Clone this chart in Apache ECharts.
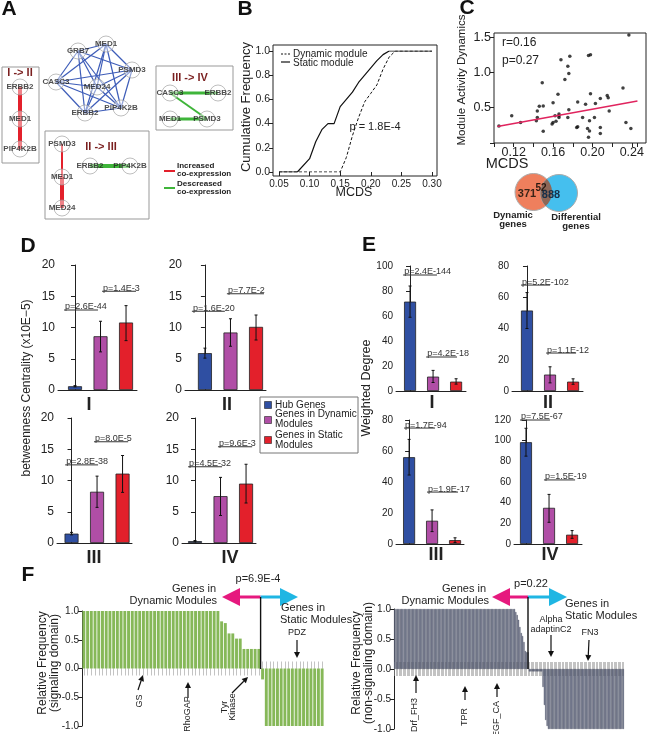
<!DOCTYPE html>
<html>
<head>
<meta charset="utf-8">
<script src="https://cdn.jsdelivr.net/npm/echarts@6/dist/echarts.min.js"></script>
<style>
  html, body { margin: 0; background: #fff; }
  #chart { width: 647px; height: 734px; }
</style>
</head>
<body>
<div id="chart"></div>
<script>
const FONT = 'Liberation Sans';
const ink = '#222';

// ---------- A: co-expression networks ----------
const coreGenes = ['GRB7', 'MED1', 'PSMD3', 'PIP4K2B', 'ERBB2', 'CASC3', 'MED24'];
const coreLinks = [
  ['GRB7', 'MED1'], ['GRB7', 'PSMD3'], ['GRB7', 'MED24'], ['GRB7', 'ERBB2'], ['GRB7', 'PIP4K2B'],
  ['GRB7', 'CASC3'], ['MED1', 'CASC3'], ['MED1', 'PSMD3'], ['MED1', 'MED24'], ['MED1', 'ERBB2'],
  ['MED1', 'PIP4K2B'], ['PSMD3', 'CASC3'], ['PSMD3', 'MED24'], ['PSMD3', 'ERBB2'], ['PSMD3', 'PIP4K2B'],
  ['CASC3', 'MED24'], ['CASC3', 'PIP4K2B'], ['CASC3', 'ERBB2'], ['MED24', 'ERBB2'], ['MED24', 'PIP4K2B'],
  ['ERBB2', 'PIP4K2B']
];
const genes12 = ['ERBB2', 'MED1', 'PIP4K2B'];
const links12 = [['ERBB2', 'MED1', 'up', 4], ['MED1', 'PIP4K2B', 'up', 4]];
const genes23 = ['PSMD3', 'MED1', 'MED24', 'ERBB2', 'PIP4K2B'];
const links23 = [['PSMD3', 'MED1', 'up', 2], ['MED1', 'MED24', 'up', 4], ['ERBB2', 'PIP4K2B', 'down', 4]];
const genes34 = ['CASC3', 'ERBB2', 'MED1', 'PSMD3'];
const links34 = [['CASC3', 'ERBB2', 'down', 3], ['CASC3', 'PSMD3', 'down', 2], ['MED1', 'PSMD3', 'down', 3]];

// node layout (pixel space of the figure)
const netLayout = {
  core: { GRB7: [78, 51], MED1: [106, 44], PSMD3: [132, 70], PIP4K2B: [121, 108], ERBB2: [85, 113], CASC3: [56, 82], MED24: [97, 87] },
  n12: { ERBB2: [20, 87], MED1: [20, 119], PIP4K2B: [20, 149] },
  n23: { PSMD3: [62, 144], MED1: [62, 177], MED24: [62, 208], ERBB2: [90, 166], PIP4K2B: [130, 166] },
  n34: { CASC3: [170, 93], ERBB2: [218, 93], MED1: [170, 119], PSMD3: [207, 119] }
};

// ---------- B: cumulative frequency of MCDS ----------
const bStaticX = [0.05, 0.08, 0.10, 0.11, 0.12, 0.13, 0.14, 0.15, 0.16, 0.17, 0.18, 0.19, 0.20, 0.21, 0.22, 0.23, 0.30];
const bStaticY = [0, 0, 0.11, 0.25, 0.35, 0.40, 0.40, 0.54, 0.60, 0.66, 0.74, 0.80, 0.86, 0.92, 0.97, 1.0, 1.0];
const bDynX = [0.05, 0.15, 0.16, 0.17, 0.18, 0.19, 0.20, 0.21, 0.22, 0.23, 0.24, 0.30];
const bDynY = [0, 0, 0.12, 0.30, 0.45, 0.58, 0.65, 0.72, 0.85, 0.95, 1.0, 1.0];

// ---------- C: MCDS vs module activity dynamics ----------
const cMcds = [0.118, 0.127, 0.105, 0.149, 0.144, 0.146, 0.150, 0.143, 0.144, 0.150, 0.160, 0.159, 0.160, 0.162, 0.163,
  0.165, 0.166, 0.166, 0.166, 0.168, 0.172, 0.175, 0.176, 0.177, 0.175, 0.176, 0.184, 0.185, 0.185, 0.190, 0.193,
  0.195, 0.196, 0.196, 0.198, 0.197, 0.197, 0.198, 0.202, 0.203, 0.208, 0.208, 0.208, 0.215, 0.216, 0.217, 0.231,
  0.234, 0.237, 0.239];
const cActivity = [0.385, 0.29, 0.24, 0.855, 0.455, 0.52, 0.525, 0.315, 0.36, 0.165, 0.57, 0.27, 0.29, 0.385, 0.31,
  0.69, 0.385, 0.41, 0.36, 1.18, 0.90, 1.09, 0.985, 1.23, 0.36, 0.47, 0.22, 0.23, 0.58, 0.36, 0.55,
  0.205, 0.08, 1.24, 1.25, 0.315, 0.17, 0.70, 0.36, 0.56, 0.63, 0.22, 0.135, 0.675, 0.64, 0.455, 0.78,
  0.29, 1.53, 0.205];
const cFitX = [0.1035, 0.2457];
const cFitY = [0.235, 0.595];
const vennCounts = [371, 52, 888];

// ---------- D: betweenness centrality ----------
const groupNames = ['Hub Genes', 'Genes in Dynamic Modules', 'Genes in Static Modules'];
const groupColors = ['#2f4fa2', '#b04ea6', '#e3202b'];
const stageNames = ['I', 'II', 'III', 'IV'];
const betw = [[0.6, 8.6, 10.8], [5.9, 9.2, 10.1], [1.5, 8.2, 11.1], [0.3, 7.5, 9.5]];
const betwLow = [[0.5, 6.1, 7.9], [5.1, 7.0, 8.0], [1.3, 5.7, 8.1], [0.2, 4.4, 6.4]];
const betwHigh = [[0.7, 11.0, 13.5], [6.7, 11.4, 12.0], [1.7, 10.7, 14.0], [0.4, 10.5, 12.6]];
const betwP = [['p=2.6E-44', 'p=1.4E-3'], ['p=1.6E-20', 'p=7.7E-2'], ['p=2.8E-38', 'p=8.0E-5'], ['p=4.5E-32', 'p=9.6E-3']];

// ---------- E: weighted degree ----------
const wdeg = [[71.5, 11.5, 7.5], [51.5, 10.5, 6], [56, 15, 2.5], [98.5, 35, 9]];
const wdegLow = [[59, 6.8, 5.5], [40, 5.2, 4.3], [44.5, 8, 1], [85, 21, 5.5]];
const wdegHigh = [[84, 16.5, 9.8], [63, 15.5, 7.8], [67.5, 22, 4], [112, 48, 13]];
const wdegP = [['p=2.4E-144', 'p=4.2E-18'], ['p=5.2E-102', 'p=1.1E-12'], ['p=1.7E-94', 'p=1.9E-17'], ['p=7.5E-67', 'p=1.5E-19']];

// ---------- F: relative domain frequency ----------
const fSignal = [
  1, 1, 1, 1, 1, 1, 1, 1, 1, 1,
  1, 1, 1, 1, 1, 1, 1, 1, 1, 1,
  1, 1, 1, 1, 1, 1, 1, 1, 1, 1,
  1, 1, 1, 1, 1, 1, 1,
  0.82, 0.79, 0.61, 0.61, 0.52, 0.52, 0.34, 0.34, 0.34, 0.34, 0.34,
  -0.19,
  -1, -1, -1, -1, -1, -1, -1, -1, -1, -1, -1, -1, -1, -1, -1, -1
];
const fNonSignal = [
  1, 1, 1, 1, 1, 1, 1, 1, 1, 1,
  1, 1, 1, 1, 1, 1, 1, 1, 1, 1,
  1, 1, 1, 1, 1, 1, 1, 1, 1, 1,
  1, 1, 1, 1, 1, 1, 1, 1, 1, 1,
  1, 1, 1, 1, 1, 1, 1, 1, 1, 1,
  1, 1, 1, 1, 1, 1, 1, 1, 1, 1,
  1, 1, 1, 1, 1, 1, 1, 1, 1, 1,
  1, 1, 1, 1, 1, 1, 1, 1, 1, 1,
  1, 1, 1, 1, 1, 1, 1, 1, 1,
  0.95, 0.9, 0.82, 0.7, 0.6, 0.55, 0.45, 0.3, 0.28, 0.28,
  -0.04, -0.04, -0.04, -0.04, -0.04, -0.04, -0.04, -0.04, -0.04, -0.04,
  -0.3, -0.6, -0.85, -0.95,
  -1, -1, -1, -1, -1, -1, -1, -1, -1, -1,
  -1, -1, -1, -1, -1, -1, -1, -1, -1, -1,
  -1, -1, -1, -1, -1, -1, -1, -1, -1, -1,
  -1, -1, -1, -1, -1, -1, -1, -1, -1, -1,
  -1, -1, -1, -1, -1, -1, -1, -1, -1, -1,
  -1, -1, -1, -1, -1, -1
];

// ================= build =================
const grid = [], xAxis = [], yAxis = [], series = [], g = [];

function txt(x, y, text, size, o = {}) {
  return {
    type: 'text', x, y, rotation: o.rot || 0, z: 100,
    style: {
      text, fill: o.color || ink, font: (o.bold ? 'bold ' : '') + size + 'px ' + FONT,
      align: o.align || 'center', verticalAlign: o.va || 'middle', lineHeight: o.lh || size
    }
  };
}
function seg(x1, y1, x2, y2, color, w, dash) {
  return { type: 'line', z: 100, shape: { x1, y1, x2, y2 }, style: { stroke: color || ink, lineWidth: w || 1, lineDash: dash || null } };
}
function rect(x, y, w, h, stroke) {
  return { type: 'rect', z: 100, shape: { x, y, width: w, height: h }, style: { fill: null, stroke: stroke || ink, lineWidth: 1 } };
}
function arrowTo(x1, y1, x2, y2) {
  const a = Math.atan2(y2 - y1, x2 - x1), L = 6, W = 3;
  const bx = x2 - L * Math.cos(a), by = y2 - L * Math.sin(a);
  return [
    seg(x1, y1, bx, by, '#111', 1.2),
    { type: 'polygon', z: 100, shape: { points: [[x2, y2], [bx - W * Math.sin(a), by + W * Math.cos(a)], [bx + W * Math.sin(a), by - W * Math.cos(a)]] }, style: { fill: '#111' } }
  ];
}
function doubleArrow(xm, y, left, right) {
  const H = 18, h = 9, t = 1.6;
  return [
    { type: 'polygon', z: 100, shape: { points: [[left, y], [left + H, y - h], [left + H, y - t], [xm, y - t], [xm, y + t], [left + H, y + t], [left + H, y + h]] }, style: { fill: '#e6197e' } },
    { type: 'polygon', z: 100, shape: { points: [[right, y], [right - H, y - h], [right - H, y - t], [xm, y - t], [xm, y + t], [right - H, y + t], [right - H, y + h]] }, style: { fill: '#1fb6e3' } },
    seg(xm, y, xm, y + 72, '#111', 1.4)
  ];
}
function addGrid(box, xa, ya) {
  const i = grid.length;
  grid.push(Object.assign({ containLabel: false }, box));
  xAxis.push(Object.assign({ gridIndex: i }, xa));
  yAxis.push(Object.assign({ gridIndex: i }, ya));
  return i;
}
function rAxis(min, max, interval, fmt, size, extra) {
  return Object.assign({
    type: 'value', min, max, interval, splitLine: { show: false },
    axisLine: { show: true, lineStyle: { color: ink, width: 1 } },
    axisTick: { show: true, length: 4, lineStyle: { color: ink } },
    axisLabel: { color: ink, fontFamily: FONT, fontSize: size, margin: 3, formatter: fmt }
  }, extra || {});
}

// ---- A
const aIdx = addGrid({ left: 0, top: 0, width: 647, height: 734 },
  { type: 'value', min: 0, max: 647, show: false },
  { type: 'value', min: 0, max: 734, inverse: true, show: false });
const linkColor = { co: '#3d5cb8', up: '#e3202b', down: '#3fb53a' };
[['core', coreGenes, coreLinks.map(l => [l[0], l[1], 'co', 1.2])],
 ['n12', genes12, links12], ['n23', genes23, links23], ['n34', genes34, links34]].forEach(([id, genes, links]) => {
  const pos = netLayout[id];
  links.forEach(l => series.push({
    type: 'line', xAxisIndex: aIdx, yAxisIndex: aIdx, z: 2, silent: true, showSymbol: false,
    lineStyle: { color: linkColor[l[2]], width: l[3] }, data: [pos[l[0]], pos[l[1]]]
  }));
  series.push({
    type: 'scatter', xAxisIndex: aIdx, yAxisIndex: aIdx, z: 3, symbolSize: 16,
    itemStyle: { color: 'rgba(255,255,255,0.55)', borderColor: '#999', borderWidth: 0.8 },
    label: { show: true, position: 'inside', formatter: '{b}', fontFamily: FONT, fontSize: 8, fontWeight: 'bold', color: ink },
    data: genes.map(n => ({ name: n, value: pos[n] }))
  });
});
g.push(rect(2, 67, 37, 96, '#999'), rect(156, 66, 77, 64, '#999'), rect(45, 131, 104, 88, '#999'));
g.push(txt(20, 73, 'I -> II', 11, { bold: true, color: '#7a1f1f' }));
g.push(txt(190, 78, 'III -> IV', 11, { bold: true, color: '#7a1f1f' }));
g.push(txt(101, 147, 'II -> III', 11, { bold: true, color: '#7a1f1f' }));
g.push(seg(164, 171, 175, 171, '#e3202b', 2), seg(164, 188, 175, 188, '#3fb53a', 2));
g.push(txt(177, 166, 'Increased', 8, { bold: true, align: 'left' }), txt(177, 174, 'co-expression', 8, { bold: true, align: 'left' }));
g.push(txt(177, 184, 'Descreased', 8, { bold: true, align: 'left' }), txt(177, 192, 'co-expression', 8, { bold: true, align: 'left' }));

// ---- B
const bIdx = addGrid({ left: 279, top: 51, width: 153, height: 121 },
  rAxis(0.05, 0.30, 0.05, v => v.toFixed(2), 10, { offset: 4, axisLine: { show: false } }),
  rAxis(0, 1, 0.2, v => v.toFixed(1), 10.5, { offset: 6, axisLine: { show: false } }));
series.push({ type: 'line', xAxisIndex: bIdx, yAxisIndex: bIdx, showSymbol: false, lineStyle: { color: '#111', width: 1, type: [3, 2] }, data: bDynX.map((x, i) => [x, bDynY[i]]) });
series.push({ type: 'line', xAxisIndex: bIdx, yAxisIndex: bIdx, showSymbol: false, lineStyle: { color: '#111', width: 1.2 }, data: bStaticX.map((x, i) => [x, bStaticY[i]]) });
g.push(rect(273, 45, 164, 131));
g.push(seg(281, 54, 290, 54, '#111', 1, [2, 1.5]), txt(293, 54, 'Dynamic module', 10, { align: 'left' }));
g.push(seg(281, 62, 290, 62, '#111', 1.2), txt(293, 63, 'Static module', 10, { align: 'left' }));
g.push(txt(375, 127, 'p = 1.8E-4', 11));
g.push(txt(246, 107, 'Cumulative Frequency', 13, { rot: Math.PI / 2 }));
g.push(txt(354, 193, 'MCDS', 12.5));

// ---- C
const cIdx = addGrid({ left: 494, top: 33, width: 152, height: 110 },
  rAxis(0.10, 0.2457, 0.02, v => { const k = Math.round(v * 100); return (k % 4 === 0 && k > 10) ? v.toFixed(2) : ''; }, 12.5, { axisLine: { show: false } }),
  rAxis(0, 1.56, 0.5, v => v === 0 ? '' : v.toFixed(1), 12.5, { axisLine: { show: false } }));
series.push({ type: 'line', xAxisIndex: cIdx, yAxisIndex: cIdx, showSymbol: false, lineStyle: { color: '#e0245e', width: 1.5 }, data: cFitX.map((x, i) => [x, cFitY[i]]) });
series.push({ type: 'scatter', xAxisIndex: cIdx, yAxisIndex: cIdx, symbolSize: 3.5, itemStyle: { color: '#111' }, data: cMcds.map((x, i) => [x, cActivity[i]]) });
g.push(rect(494, 33, 152, 110));
g.push(txt(502, 43, 'r=0.16', 12, { align: 'left' }), txt(502, 61, 'p=0.27', 12, { align: 'left' }));
g.push(txt(462, 80, 'Module Activity Dynamics', 11.5, { rot: Math.PI / 2 }));
g.push(txt(507, 164, 'MCDS', 14.5));
// Venn
const vo = [533.5, 192], vb = [559, 193], vr = 18.5;
g.push({ type: 'circle', z: 100, shape: { cx: vo[0], cy: vo[1], r: vr }, style: { fill: '#ef7f5d', stroke: '#aaa', lineWidth: 1 } });
g.push({ type: 'circle', z: 100, shape: { cx: vb[0], cy: vb[1], r: vr }, style: { fill: '#45bfee', stroke: '#aaa', lineWidth: 1 } });
(function () {
  // lens = intersection of the two circles, traced along both arcs
  const d = Math.hypot(vb[0] - vo[0], vb[1] - vo[1]);
  const half = Math.acos((d / 2) / vr);
  const dir = Math.atan2(vb[1] - vo[1], vb[0] - vo[0]);
  const pts = [];
  for (let k = 0; k <= 16; k++) {
    const t = -half + (2 * half) * k / 16;
    pts.push([vo[0] + vr * Math.cos(dir + t), vo[1] + vr * Math.sin(dir + t)]);
  }
  for (let k = 0; k <= 16; k++) {
    const t = -half + (2 * half) * k / 16;
    pts.push([vb[0] - vr * Math.cos(dir + t), vb[1] - vr * Math.sin(dir + t)]);
  }
  g.push({ type: 'polygon', z: 100, shape: { points: pts }, style: { fill: '#8d6757' } });
})();
g.push(txt(527, 194, String(vennCounts[0]), 11, { bold: true, color: '#3a2418' }));
g.push(txt(541, 188, String(vennCounts[1]), 10, { bold: true, color: '#2a1a12' }));
g.push(txt(551, 195, String(vennCounts[2]), 11, { bold: true, color: '#16304a' }));
g.push(txt(513, 215, 'Dynamic', 9.5, { bold: true }), txt(513, 224, 'genes', 9.5, { bold: true }));
g.push(txt(576, 217, 'Differential', 9.5, { bold: true }), txt(576, 226, 'genes', 9.5, { bold: true }));

// ---- D / E bar panels
function errRender(params, api) {
  const x = api.value(0);
  const lo = api.coord([x, api.value(1)]), hi = api.coord([x, api.value(2)]);
  const st = { stroke: '#111', lineWidth: 1 };
  return {
    type: 'group', children: [
      { type: 'line', shape: { x1: hi[0], y1: hi[1], x2: lo[0], y2: lo[1] }, style: st },
      { type: 'line', shape: { x1: hi[0] - 1.5, y1: hi[1], x2: hi[0] + 1.5, y2: hi[1] }, style: st },
      { type: 'line', shape: { x1: lo[0] - 1.5, y1: lo[1], x2: lo[0] + 1.5, y2: lo[1] }, style: st }
    ]
  };
}
function barPanel(box, xr, yMax, yInt, ySize, vals, lo, hi, pTexts, brackets, barW) {
  const i = addGrid(box,
    { type: 'value', min: xr[0], max: xr[1], splitLine: { show: false }, axisLine: { show: true, lineStyle: { color: ink } }, axisTick: { show: false }, axisLabel: { show: false } },
    rAxis(0, yMax, yInt, v => String(v), ySize));
  series.push({
    type: 'bar', xAxisIndex: i, yAxisIndex: i, barWidth: barW,
    itemStyle: { borderColor: '#222', borderWidth: 0.8 },
    data: vals.map((v, k) => ({ value: [k, v], itemStyle: { color: groupColors[k] } }))
  });
  series.push({ type: 'custom', xAxisIndex: i, yAxisIndex: i, z: 5, renderItem: errRender, encode: { x: 0, y: [1, 2] }, data: vals.map((v, k) => [k, lo[k], hi[k]]) });
  series.push({
    type: 'custom', xAxisIndex: i, yAxisIndex: i, z: 5, encode: { x: [0, 1], y: 2 }, data: brackets,
    renderItem(params, api) {
      const a = api.coord([api.value(0), api.value(2)]), b = api.coord([api.value(1), api.value(2)]);
      return {
        type: 'group', children: [
          { type: 'line', shape: { x1: a[0], y1: a[1], x2: b[0], y2: b[1] }, style: { stroke: '#333', lineWidth: 1 } },
          { type: 'text', x: a[0] + 1, y: a[1] + 1.5, style: { text: pTexts[params.dataIndex], fill: '#333', font: '9px ' + FONT, align: 'left', verticalAlign: 'bottom' } }
        ]
      };
    }
  });
}
const dBoxes = [
  [{ left: 58, top: 265, width: 79, height: 125 }, [-0.667, 2.43], [[-0.43, 0.9, 12.8], [1.06, 2.39, 15.8]], [89, 405]],
  [{ left: 185, top: 265, width: 81, height: 125 }, [-0.78, 2.39], [[-0.51, 0.78, 12.6], [0.86, 2.31, 15.4]], [227, 405]],
  [{ left: 57, top: 418, width: 75, height: 125 }, [-0.57, 2.37], [[-0.25, 1.04, 12.5], [0.88, 2.22, 16.2]], [94, 558]],
  [{ left: 182, top: 418, width: 74, height: 125 }, [-0.51, 2.39], [[-0.27, 1.06, 12.2], [0.9, 2.24, 15.4]], [230, 558]]
];
dBoxes.forEach((b, k) => {
  barPanel(b[0], b[1], 20, 5, 12, betw[k], betwLow[k], betwHigh[k], betwP[k], b[2], 14);
  g.push(txt(b[3][0], b[3][1], stageNames[k], 18, { bold: true }));
});
const eBoxes = [
  [{ left: 396, top: 266, width: 70, height: 125 }, [-0.61, 2.43], 100, [[-0.3, 1.17, 92.8], [0.7, 2.04, 27.2]], [432, 403]],
  [{ left: 512, top: 266, width: 71, height: 125 }, [-0.65, 2.43], 80, [[-0.26, 1.0, 67.8], [0.83, 2.13, 24.3]], [548, 403]],
  [{ left: 396, top: 420, width: 68, height: 124 }, [-0.57, 2.39], 80, [[-0.22, 1.13, 74.8], [0.78, 2.13, 33.5]], [436, 555]],
  [{ left: 514, top: 420, width: 68, height: 124 }, [-0.52, 2.43], 120, [[-0.26, 1.04, 120], [0.78, 2.13, 62]], [550, 555]]
];
eBoxes.forEach((b, k) => {
  barPanel(b[0], b[1], b[2], 20, 10, wdeg[k], wdegLow[k], wdegHigh[k], wdegP[k], b[3], 12);
  g.push(txt(b[4][0], b[4][1], stageNames[k], 18, { bold: true }));
});
g.push(txt(27, 388, 'betweenness Centrality (x10E\u22125)', 12, { rot: Math.PI / 2 }));
g.push(txt(367, 388, 'Weighted Degree', 12.5, { rot: Math.PI / 2 }));
// legend of D
g.push(rect(260, 397, 98, 56, '#777'));
const legY = [[405, [405]], [420, [414, 424]], [440, [435, 445]]];
const legLines = [['Hub Genes'], ['Genes in Dynamic', 'Modules'], ['Genes in Static', 'Modules']];
legY.forEach((l, k) => {
  g.push({ type: 'rect', z: 100, shape: { x: 264.5, y: l[0] - 3.5, width: 7, height: 7 }, style: { fill: groupColors[k], stroke: '#222', lineWidth: 0.6 } });
  legLines[k].forEach((s, j) => g.push(txt(275, l[1][j], s, 10, { align: 'left' })));
});

// ---- F
function domainPanel(box, vals, color, border, gap, yName1, yName2, nameX) {
  const cats = vals.map((v, k) => 'd' + (k + 1));
  const tick = { show: true, alignWithLabel: true, interval: 0, length: 7, lineStyle: { color: '#9a9a9a', width: 0.6 } };
  const i = grid.length;
  grid.push(box);
  xAxis.push({ gridIndex: i, type: 'category', data: cats, position: 'bottom', axisLine: { show: false, onZero: true }, axisTick: tick, axisLabel: { show: false } });
  xAxis.push({ gridIndex: i, type: 'category', data: cats, position: 'top', axisLine: { show: false, onZero: true }, axisTick: tick, axisLabel: { show: false } });
  yAxis.push(Object.assign({ gridIndex: i }, rAxis(-1, 1, 0.5, v => v.toFixed(1), 10)));
  // hidden twin so the upper tick row can also sit on zero
  yAxis.push({ gridIndex: i, type: 'value', min: -1, max: 1, show: false, position: 'right' });
  series.push({
    type: 'bar', xAxisIndex: xAxis.length - 2, yAxisIndex: yAxis.length - 2, barCategoryGap: gap,
    itemStyle: { color, borderColor: border || color, borderWidth: border ? 0.4 : 0 }, data: vals
  });
  g.push(txt(nameX, 663, yName1, 12, { rot: Math.PI / 2 }), txt(nameX + 12, 663, yName2, 12, { rot: Math.PI / 2 }));
}
domainPanel({ left: 82, top: 611, width: 242, height: 115 }, fSignal, '#86b858', null, '22%', 'Relative Frequency', '(signaling domain)', 43);
domainPanel({ left: 394, top: 609, width: 230, height: 120 }, fNonSignal, '#737a94', '#43485c', '15%', 'Relative Frequency', '(non-signaling domain)', 357);

g.push(...doubleArrow(260.6, 597, 222, 298));
g.push(txt(258, 579, 'p=6.9E-4', 11));
g.push(txt(216, 589, 'Genes in', 11, { align: 'right' }), txt(217, 601, 'Dynamic Modules', 11, { align: 'right' }));
g.push(txt(281, 608, 'Genes in', 11, { align: 'left' }), txt(280, 620, 'Static Modules', 11, { align: 'left' }));
g.push(...arrowTo(138, 690, 143, 675), txt(140, 701, 'GS', 9, { rot: Math.PI / 2 }));
g.push(...arrowTo(188, 698, 188, 682), txt(188, 714, 'RhoGAP', 9, { rot: Math.PI / 2 }));
g.push(...arrowTo(232, 693, 248, 677), txt(229, 707, 'Tyr\nKinase', 9, { rot: Math.PI / 2, lh: 8 }));
g.push(txt(297, 633, 'PDZ', 9), ...arrowTo(297, 640, 297, 658));

g.push(...doubleArrow(528, 597, 492, 567));
g.push(txt(531, 584, 'p=0.22', 11));
g.push(txt(486, 589, 'Genes in', 11, { align: 'right' }), txt(489, 601, 'Dynamic Modules', 11, { align: 'right' }));
g.push(txt(565, 604, 'Genes in', 11, { align: 'left' }), txt(565, 616, 'Static Modules', 11, { align: 'left' }));
g.push(...arrowTo(416, 693, 416, 675), txt(415, 715, 'Drf_FH3', 9, { rot: Math.PI / 2 }));
g.push(...arrowTo(465, 700, 465, 686), txt(465, 717, 'TPR', 9, { rot: Math.PI / 2 }));
g.push(...arrowTo(497, 697, 497, 683), txt(497, 719, 'EGF_CA', 9, { rot: Math.PI / 2 }));
g.push(txt(551, 620, 'Alpha', 9), txt(551, 630, 'adaptinC2', 9), ...arrowTo(551, 635, 551, 657));
g.push(txt(590, 633, 'FN3', 9), ...arrowTo(589, 640, 588, 661));

// panel letters
[['A', 9, 9], ['B', 245, 9], ['C', 467, 8], ['D', 28, 246], ['E', 369, 245], ['F', 28, 575]].forEach(l =>
  g.push(txt(l[1], l[2], l[0], 21, { bold: true, color: '#111' })));

const chart = echarts.init(document.getElementById('chart'));
chart.setOption({
  animation: false,
  backgroundColor: '#fff',
  grid, xAxis, yAxis, series,
  graphic: { elements: g }
});
</script>
</body>
</html>
